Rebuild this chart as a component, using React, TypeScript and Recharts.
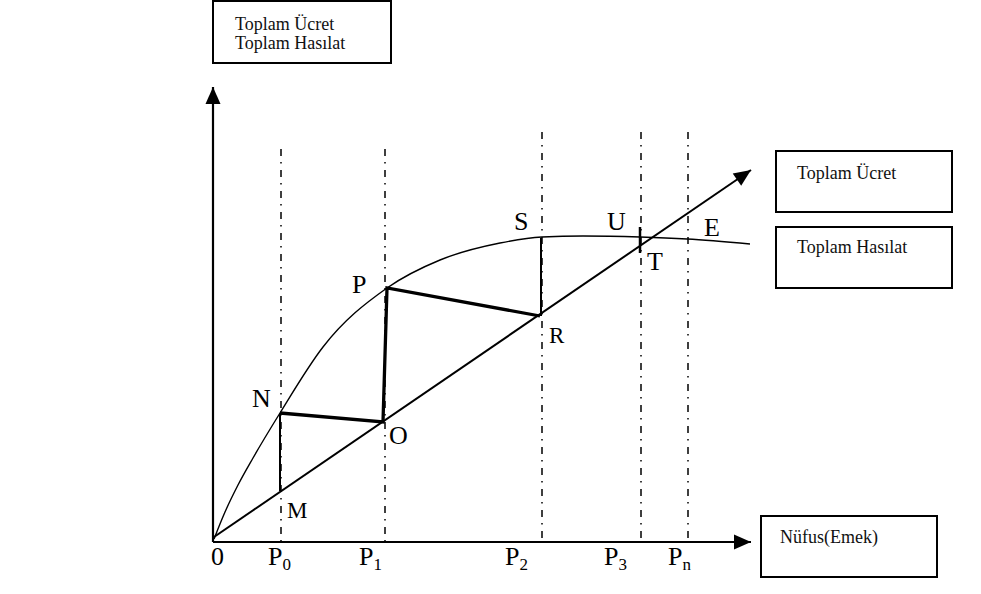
import React from 'react';
import { ComposedChart, Line, XAxis, YAxis, ReferenceLine, Scatter } from 'recharts';

const W = 981;
const H = 594;

// population levels marked on the horizontal axis
const popTicks = ['P0', 'P1', 'P2', 'P3', 'Pn'];
const popLevels = [68, 172, 329, 428, 475];

// total revenue curve (Toplam Hasılat)
const revenueX = [1, 12, 25, 40, 67, 110, 174, 227, 287, 329, 370, 427, 474, 537];
const revenueY = [3, 30, 57, 84, 129, 195, 254, 282, 299, 305, 306, 305, 303, 298];

// total wage line (Toplam Ücret)
const wageX = [1, 538];
const wageY = [5, 372];

// adjustment path N -> O -> P -> R
const pathX = [67, 170, 174, 327];
const pathY = [129, 120, 254, 226];

// N down to M, S down to R, the U/T marker
const nmX = [67, 67];
const nmY = [129, 51];
const srX = [328, 328];
const srY = [304, 226];
const utX = [427, 427];
const utY = [315, 289];

// axes
const yAxisX = [0, 0];
const yAxisY = [0, 455];
const xAxisX = [0, 538];
const xAxisY = [0, 0];

const toPts = (xs: number[], ys: number[]) => xs.map((x, i) => ({ x, y: ys[i] }));

const pointLabels = [
  { text: 'N', x: pathX[0], y: pathY[0] },
  { text: 'O', x: pathX[1], y: pathY[1] },
  { text: 'P', x: pathX[2], y: pathY[2] },
  { text: 'R', x: pathX[3], y: pathY[3] },
  { text: 'M', x: nmX[1], y: nmY[1] },
  { text: 'S', x: srX[0], y: srY[0] },
  { text: 'U', x: utX[0], y: utY[0] },
  { text: 'T', x: utX[1], y: utY[1] },
  { text: 'E', x: revenueX[revenueX.length - 1], y: revenueY[revenueY.length - 1] },
];

const tickLabels = [
  { text: '0', x: 0, y: 0 },
  ...popTicks.map((t, i) => ({ text: t, x: popLevels[i], y: 0 })),
];

// offsets of label text from the point it names (px) and font size
const labelOffset: Record<string, [number, number, number]> = {
  N: [-28, -6, 26],
  O: [6, 22, 26],
  P: [-35, 5, 26],
  R: [9, 27, 23],
  M: [7, 27, 23],
  S: [-27, -8, 26],
  U: [-33, 3, 26],
  T: [7, 17, 26],
  E: [-46, -8, 26],
  '0': [-2, 23, 26],
  P0: [-13, 23, 26],
  P1: [-26, 23, 26],
  P2: [-37, 23, 26],
  P3: [-37, 23, 26],
  Pn: [-20, 23, 26],
};

const FONT = '"Liberation Serif", "Times New Roman", serif';

const arrowDot = (xs: number[], ys: number[]) => (props: any) => {
  const { cx, cy, index } = props;
  const n = xs.length;
  if (index !== n - 1) return <g key={`d${index}`} />;
  const ang = (Math.atan2(-(ys[n - 1] - ys[n - 2]), xs[n - 1] - xs[n - 2]) * 180) / Math.PI;
  return (
    <polygon
      key={`a${index}`}
      transform={`translate(${cx},${cy}) rotate(${ang})`}
      points="0,0 -17,-7.5 -17,7.5"
      fill="#000"
    />
  );
};

const LabelShape = (props: any) => {
  const { cx, cy, payload } = props;
  const [dx, dy, size] = labelOffset[payload.text] || [0, 0, 26];
  const t: string = payload.text;
  if (t.length === 2) {
    return (
      <text x={cx + dx} y={cy + dy} fontFamily={FONT} fontSize={size} fill="#000">
        <tspan>{t[0]}</tspan>
        <tspan fontSize={17} dy={5}>{t[1]}</tspan>
      </text>
    );
  }
  return (
    <text x={cx + dx} y={cy + dy} fontFamily={FONT} fontSize={size} fill="#000">
      {t}
    </text>
  );
};

export default function App() {
  const lineCommon = {
    dataKey: 'y',
    stroke: '#000',
    isAnimationActive: false,
    activeDot: false as const,
    legendType: 'none' as const,
  };
  return (
    <div
      style={{
        position: 'absolute',
        left: 0,
        top: 0,
        width: W,
        height: H,
        background: '#fff',
        fontFamily: FONT,
      }}
    >
      <ComposedChart width={W} height={H} margin={{ top: 0, right: 0, bottom: 0, left: 0 }}>
        <XAxis type="number" dataKey="x" domain={[-213, 768]} hide allowDataOverflow />
        <YAxis type="number" dataKey="y" domain={[-52, 542]} hide allowDataOverflow />

        {popLevels.map((p, i) => (
          <ReferenceLine
            key={popTicks[i]}
            segment={[
              { x: p, y: i < 2 ? 393 : 410 },
              { x: p, y: 0 },
            ]}
            stroke="#000"
            strokeWidth={1.5}
            strokeDasharray="7 6 1.5 6.5"
          />
        ))}

        <Line {...lineCommon} data={toPts(revenueX, revenueY)} type="monotone" strokeWidth={1.4} dot={false} />
        <Line {...lineCommon} data={toPts(wageX, wageY)} type="linear" strokeWidth={2} dot={arrowDot(wageX, wageY)} />
        <Line {...lineCommon} data={toPts(pathX, pathY)} type="linear" strokeWidth={3.3} dot={false} />
        <Line {...lineCommon} data={toPts(nmX, nmY)} type="linear" strokeWidth={2} dot={false} />
        <Line {...lineCommon} data={toPts(srX, srY)} type="linear" strokeWidth={2} dot={false} />
        <Line {...lineCommon} data={toPts(utX, utY)} type="linear" strokeWidth={2.5} dot={false} />
        <Line {...lineCommon} data={toPts(yAxisX, yAxisY)} type="linear" strokeWidth={2.2} dot={arrowDot(yAxisX, yAxisY)} />
        <Line {...lineCommon} data={toPts(xAxisX, xAxisY)} type="linear" strokeWidth={2.2} dot={arrowDot(xAxisX, xAxisY)} />

        <Scatter data={pointLabels} dataKey="y" shape={LabelShape} isAnimationActive={false} legendType="none" />
        <Scatter data={tickLabels} dataKey="y" shape={LabelShape} isAnimationActive={false} legendType="none" />
      </ComposedChart>

      <svg
        width={W}
        height={H}
        style={{ position: 'absolute', left: 0, top: 0, pointerEvents: 'none' }}
      >
        <g fill="none" stroke="#000" strokeWidth={2}>
          <rect x={213} y={1} width={178} height={62} />
          <rect x={776} y={151} width={176} height={61} />
          <rect x={776} y={227} width={176} height={61} />
          <rect x={761} y={516} width={176} height={61} />
        </g>
        <g fontFamily={FONT} fontSize={18} fill="#111">
          <text x={235} y={30}>Toplam Ücret</text>
          <text x={235} y={49}>Toplam Hasılat</text>
          <text x={797} y={179}>Toplam Ücret</text>
          <text x={797} y={253}>Toplam Hasılat</text>
          <text x={780} y={543}>Nüfus(Emek)</text>
        </g>
      </svg>
    </div>
  );
}
